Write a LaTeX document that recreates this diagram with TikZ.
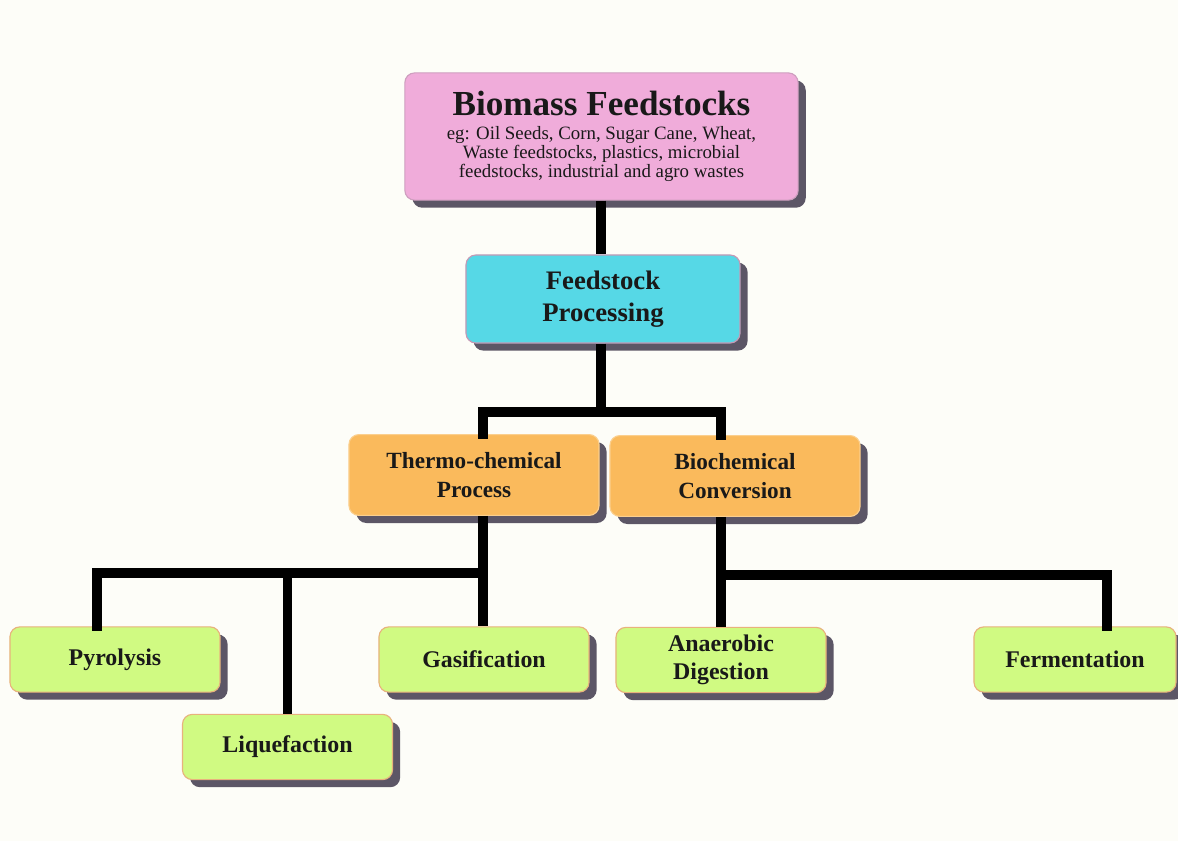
\documentclass[tikz,border=0pt]{standalone}
\usepackage{fontspec}
\setmainfont{Liberation Serif}
\usetikzlibrary{shadows}

\definecolor{bgcream}{RGB}{253,253,248}
\definecolor{pinkfill}{RGB}{240,172,218}
\definecolor{cyanfill}{RGB}{86,216,230}
\definecolor{orangefill}{RGB}{250,186,92}
\definecolor{greenfill}{RGB}{208,250,130}
\definecolor{shadowgray}{RGB}{92,86,102}

\tikzset{
    box/.style={draw, line width=0.8pt, rounded corners=7pt, inner sep=0pt, align=center,
        font=\bfseries, text=black!90,
        drop shadow={shadow xshift=0.19cm, shadow yshift=-0.19cm, fill=shadowgray, opacity=1}},
    topbox/.style={box, fill=pinkfill, draw=pinkfill!70!gray, minimum width=9.83cm, minimum height=3.18cm},
    procbox/.style={box, fill=cyanfill, draw=pinkfill!60!gray, minimum width=6.85cm, minimum height=2.2cm,
        font=\fontsize{19}{23}\selectfont\bfseries},
    routebox/.style={box, fill=orangefill, draw=orangefill!70!white, minimum width=6.25cm, minimum height=2.02cm,
        font=\fontsize{16.5}{20}\selectfont\bfseries},
    leafbox/.style={box, fill=greenfill, draw=orange!40!brown!60!white, minimum width=5.25cm, minimum height=1.63cm,
        font=\fontsize{17}{19.5}\selectfont\bfseries},
    link/.style={line width=7pt, black},
}
\newcommand{\subtxt}{\fontsize{13.4}{14.8}\selectfont\mdseries}

\begin{document}
\begin{tikzpicture}[x=0.025cm, y=-0.025cm]
    % Background
    \fill[bgcream] (0,0) rectangle (1178,841);
    \useasboundingbox (0,0) rectangle (1178,841);

    \coordinate (cbio) at (601.5, 136.5);
    \coordinate (cfeed) at (603, 299);
    \coordinate (cthermo) at (474, 475);
    \coordinate (cbiochem) at (735, 476);

    \node [topbox] (bio) at (cbio) {\fontsize{25}{27}\selectfont Biomass Feedstocks\\[5pt]
        \subtxt eg: Oil Seeds, Corn, Sugar Cane, Wheat,\\
        \subtxt Waste feedstocks, plastics, microbial\\
        \subtxt feedstocks, industrial and agro wastes};
    \node [procbox] (feed) at (cfeed) {Feedstock\\Processing};
    \node [routebox] (thermo) at (cthermo) {Thermo-chemical\\Process};
    \node [routebox] (biochem) at (cbiochem) {Biochemical\\Conversion};

    \node [leafbox] (pyro) at (115, 659.5) {Pyrolysis};
    \node [leafbox] (liq) at (287.5, 747) {Liquefaction};
    \node [leafbox] (gas) at (484, 659.5) {Gasification};
    \node [leafbox] (anaer) at (721, 660) {Anaerobic\\Digestion};
    \node [leafbox, minimum width=5.05cm] (ferm) at (1075, 659.5) {Fermentation};

    % Connectors
    \coordinate (jfeed) at (601, 412);
    \coordinate (jthermo) at (483, 573);
    \coordinate (jbio) at (721, 575);

    \draw [link] (bio.south -| jfeed) -- (feed.north -| jfeed);
    \draw [link] (feed.south -| jfeed) -- (jfeed);
    \draw [link, line cap=rect] (jfeed) -| (thermo.north -| jthermo);
    \draw [link, line cap=rect] (jfeed) -| (biochem.north -| jbio);
    \draw [link] (thermo.south -| jthermo) -- (jthermo);
    \draw [link, line cap=rect] (jthermo) -| ([xshift=-0.45cm]pyro.north);
    \draw [link] (jthermo -| liq.north) -- (liq.north);
    \draw [link] (jthermo) -- (gas.north -| jthermo);
    \draw [link] (biochem.south -| jbio) -- (anaer.north);
    \draw [link, line cap=rect] (jbio) -| ([xshift=0.8cm]ferm.north);
\end{tikzpicture}
\end{document}
